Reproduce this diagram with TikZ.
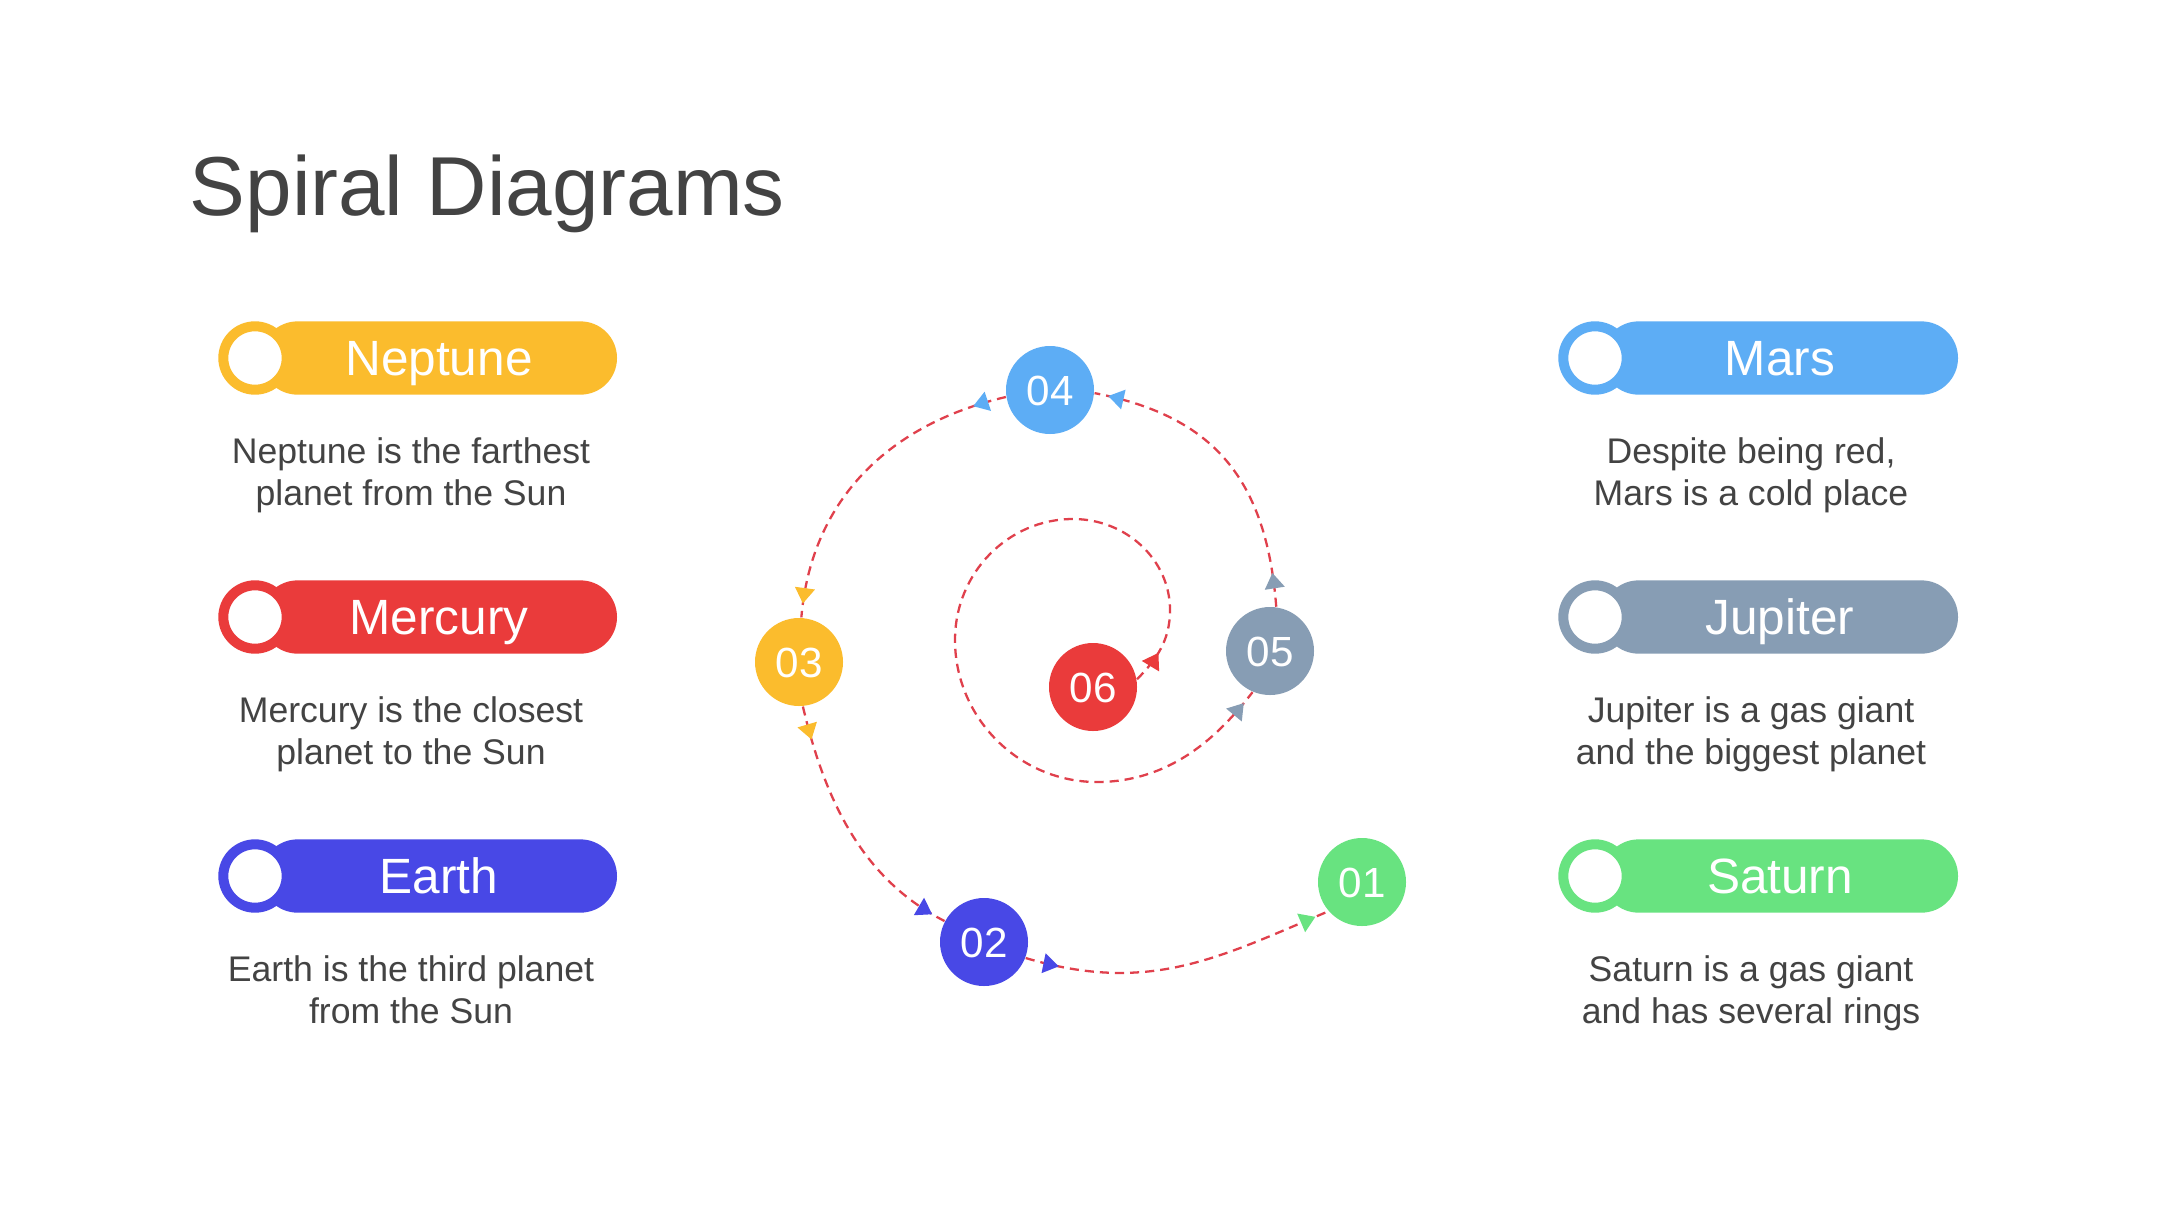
\documentclass[tikz,border=0pt]{standalone}
\usepackage{fontspec}
\setmainfont{Liberation Sans}
\usetikzlibrary{arrows.meta,decorations.markings}
\definecolor{cyellow}{HTML}{FBBC2D}
\definecolor{cred}{HTML}{EA3B3B}
\definecolor{cblue}{HTML}{4848E6}
\definecolor{clight}{HTML}{5DADF5}
\definecolor{cgray}{HTML}{879DB4}
\definecolor{cgreen}{HTML}{68E380}
\definecolor{linered}{HTML}{E0404C}
\definecolor{txtgray}{HTML}{434343}
\begin{document}
\begin{tikzpicture}[
  num/.style={circle, minimum size=0.88cm, inner sep=0pt, text=white,
    font=\fontsize{12}{14}\selectfont, text height=8.6pt, text depth=0pt},
  pillbody/.style={rectangle, rounded corners=0.366cm, minimum width=3.56cm,
    minimum height=0.733cm, inner sep=0pt, text=white,
    font=\fontsize{14.1}{17}\selectfont, text height=10pt, text depth=0pt},
  ring/.style={circle, fill=white, line width=0.1cm, minimum size=0.634cm, inner sep=0pt},
  desc/.style={anchor=base, inner sep=0pt, text=txtgray, font=\fontsize{10.13}{12}\selectfont},
  conn/.style={draw=linered, line width=0.65pt, dash pattern=on 2.6pt off 1.7pt},
  flowarr/.style 2 args={postaction={decorate}, decoration={markings,
    mark=at position 0.34cm with {\arrow{Triangle[color=#1,length=4.4pt,width=5.6pt]}},
    mark=at position -0.14cm with {\arrow{Triangle[color=#2,length=4.4pt,width=5.6pt]}}}}
]
\useasboundingbox[fill=white] (0,0) rectangle (21.6,-12.15);

% title
\node[anchor=base west, inner sep=0pt, text=txtgray, font=\fontsize{23.8}{28}\selectfont]
  (title) at (1.89,-2.15) {Spiral Diagrams};

% left column
\node[pillbody, fill=cyellow] (neptune) at (4.39,-3.58) {Neptune};
\node[ring, draw=cyellow] (neptuneRing) at (2.55,-3.58) {};
\node[desc] (neptuneA) at (4.11,-4.63) {Neptune is the farthest};
\node[desc] (neptuneB) at (4.11,-5.05) {planet from the Sun};

\node[pillbody, fill=cred] (mercury) at (4.39,-6.17) {Mercury};
\node[ring, draw=cred] (mercuryRing) at (2.55,-6.17) {};
\node[desc] (mercuryA) at (4.11,-7.22) {Mercury is the closest};
\node[desc] (mercuryB) at (4.11,-7.64) {planet to the Sun};

\node[pillbody, fill=cblue] (earth) at (4.39,-8.76) {Earth};
\node[ring, draw=cblue] (earthRing) at (2.55,-8.76) {};
\node[desc] (earthA) at (4.11,-9.81) {Earth is the third planet};
\node[desc] (earthB) at (4.11,-10.23) {from the Sun};

% right column
\node[pillbody, fill=clight] (mars) at (17.80,-3.58) {Mars};
\node[ring, draw=clight] (marsRing) at (15.95,-3.58) {};
\node[desc] (marsA) at (17.51,-4.63) {Despite being red,};
\node[desc] (marsB) at (17.51,-5.05) {Mars is a cold place};

\node[pillbody, fill=cgray] (jupiter) at (17.80,-6.17) {Jupiter};
\node[ring, draw=cgray] (jupiterRing) at (15.95,-6.17) {};
\node[desc] (jupiterA) at (17.51,-7.22) {Jupiter is a gas giant};
\node[desc] (jupiterB) at (17.51,-7.64) {and the biggest planet};

\node[pillbody, fill=cgreen] (saturn) at (17.80,-8.76) {Saturn};
\node[ring, draw=cgreen] (saturnRing) at (15.95,-8.76) {};
\node[desc] (saturnA) at (17.51,-9.81) {Saturn is a gas giant};
\node[desc] (saturnB) at (17.51,-10.23) {and has several rings};

% spiral nodes
\node[num, fill=cgreen] (n01) at (13.62,-8.82) {01};
\node[num, fill=cblue] (n02) at (9.84,-9.42) {02};
\node[num, fill=cyellow] (n03) at (7.99,-6.62) {03};
\node[num, fill=clight] (n04) at (10.50,-3.90) {04};
\node[num, fill=cgray] (n05) at (12.70,-6.51) {05};
\node[num, fill=cred] (n06) at (10.93,-6.87) {06};

% connectors
\draw[conn, flowarr={cred}{cgray}] (n06.10)
  .. controls (11.57,-6.59) and (11.70,-6.40) .. (11.70,-6.10)
  .. controls (11.70,-5.60) and (11.265,-5.19) .. (10.73,-5.19)
  .. controls (10.08,-5.19) and (9.55,-5.73) .. (9.55,-6.40)
  .. controls (9.55,-7.18) and (10.19,-7.82) .. (10.97,-7.82)
  .. controls (11.77,-7.82) and (12.25,-7.275) .. (n05.247);
\draw[conn, flowarr={cgray}{clight}] (n05.82)
  .. controls (12.66,-4.72) and (12.07,-4.15) .. (n04.-4);
\draw[conn, flowarr={clight}{cyellow}] (n04.189)
  .. controls (8.90,-4.24) and (8.115,-4.985) .. (n03.87);
\draw[conn, flowarr={cyellow}{cblue}] (n03.-85)
  .. controls (8.255,-8.03) and (8.64,-8.80) .. (n02.152);
\draw[conn, flowarr={cblue}{cgreen}] (n02.-21)
  .. controls (11.5,-9.95) and (12.2,-9.57) .. (n01.221);
\end{tikzpicture}
\end{document}
